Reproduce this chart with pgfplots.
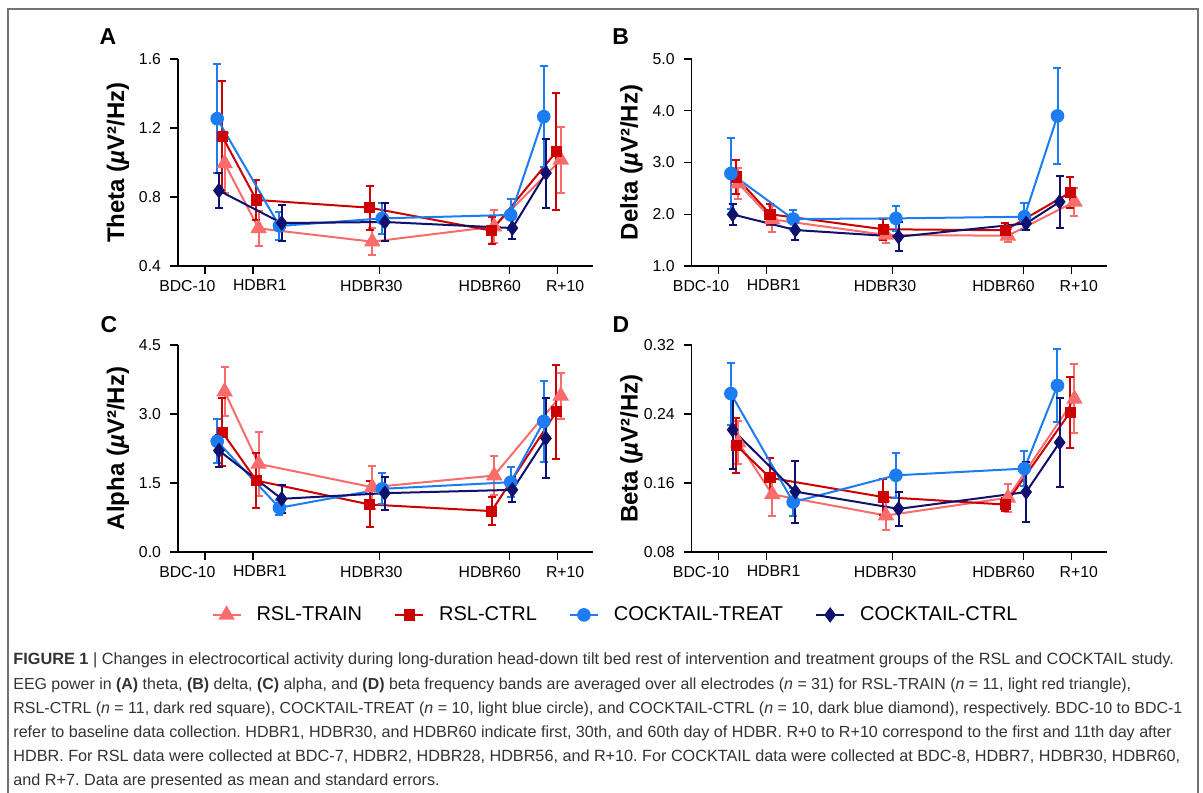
\documentclass[border=0pt]{standalone}
\usepackage{pgfplots}
\pgfplotsset{compat=1.18}
\usepackage{fontspec}
\setmainfont{Liberation Sans}
\frenchspacing

\definecolor{ctrain}{RGB}{248,108,108}
\definecolor{crctrl}{RGB}{204,0,0}
\definecolor{ctreat}{RGB}{28,124,242}
\definecolor{ccctrl}{RGB}{16,16,110}

\pgfplotsset{
  panel/.style={
    scale only axis, width=207.5pt, height=103.5pt,
    axis x line*=bottom, axis y line*=left,
    xmin=-16.2, xmax=79.1,
    xtick={-10,1,30,60,71}, xticklabels={},
    extra x ticks={-14.05,2.6,28.2,55.4,72.7},
    extra x tick labels={BDC-10,HDBR1,HDBR30,HDBR60,R+10},
    extra x tick style={major tick length=0pt},
    tick align=outside, major tick length=4pt,
    axis line style={line width=0.6pt},
    tick style={line width=0.6pt, black},
    ticklabel style={font=\fontsize{7.9}{9}\selectfont},
    yticklabel style={xshift=-1pt},
    xticklabel style={yshift=-3.5pt},
    /pgf/number format/assume math mode=true,
    /pgf/number format/fixed, /pgf/number format/fixed zerofill,
    /pgf/number format/precision=1,
    scaled y ticks=false,
    ylabel style={font=\bfseries\fontsize{12}{14}\selectfont,
      at={(axis description cs:-0.145,0.5)}, anchor=center},
    clip=false,
  },
  errs/.style={error bars/.cd, y dir=both, y explicit,
    error bar style={line width=1pt},
    error mark options={rotate=90, mark size=2pt, line width=1pt, #1}},
  train/.style={color=ctrain, line width=1pt, mark=triangle*, mark size=3.8pt,
    mark options={solid, fill=ctrain}, errs=ctrain},
  rctrl/.style={color=crctrl, line width=1pt, mark=square*, mark size=2.3pt,
    mark options={solid, fill=crctrl}, errs=crctrl},
  treat/.style={color=ctreat, line width=1pt, mark=*, mark size=2.9pt,
    mark options={solid, fill=ctreat}, errs=ctreat},
  cctrl/.style={color=ccctrl, line width=1pt, mark=diamond*, mark size=3.1pt,
    mark options={solid, fill=ccctrl}, errs=ccctrl},
}

\begin{document}
\begin{tikzpicture}
\useasboundingbox (0pt,0pt) rectangle (601.5pt,396pt);
\draw[black!55, line width=0.7pt] (4pt,-1pt) -- (4pt,391.5pt) -- (599pt,391.5pt) -- (599pt,-1pt);

% panel letters
\node[font=\bfseries\fontsize{11.5}{13}\selectfont] at (54pt,377.5pt) {A};
\node[font=\bfseries\fontsize{11.5}{13}\selectfont] at (310.3pt,377.5pt) {B};
\node[font=\bfseries\fontsize{11.5}{13}\selectfont] at (54.5pt,233.5pt) {C};
\node[font=\bfseries\fontsize{11.5}{13}\selectfont] at (310.5pt,233.5pt) {D};

% A theta
\begin{axis}[panel, at={(89pt,263pt)}, anchor=south west,
  ymin=0.4, ymax=1.6, ytick={0.4,0.8,1.2,1.6},
  ylabel={Theta (\textit{µ}V²/Hz)}]
\addplot[train] coordinates {(-5.5,0.995)+-(0,0.174) (2.3,0.618)+-(0,0.10) (28.4,0.541)+-(0,0.08) (56.4,0.628)+-(0,0.095) (71.7,1.015)+-(0,0.19)};
\addplot[rctrl] coordinates {(-6.0,1.150)+-(0,0.325) (1.8,0.783)+-(0,0.114) (27.8,0.738)+-(0,0.127) (55.8,0.605)+-(0,0.08) (70.7,1.063)+-(0,0.34)};
\addplot[treat] coordinates {(-7.2,1.254)+-(0,0.317) (7.1,0.632)+-(0,0.083) (30.7,0.676)+-(0,0.09) (60.2,0.696)+-(0,0.09) (67.8,1.266)+-(0,0.295)};
\addplot[cctrl] coordinates {(-6.8,0.837)+-(0,0.103) (7.6,0.649)+-(0,0.107) (31.3,0.655)+-(0,0.11) (60.6,0.620)+-(0,0.065) (68.3,0.939)+-(0,0.2)};
\end{axis}

% B delta
\begin{axis}[panel, at={(345.85pt,263pt)}, anchor=south west,
  ymin=1, ymax=5, ytick={1,2,3,4,5},
  ylabel={Delta (\textit{µ}V²/Hz)}]
\addplot[train] coordinates {(-5.5,2.595)+-(0,0.3) (2.3,1.90)+-(0,0.25) (28.4,1.60)+-(0,0.16) (56.4,1.585)+-(0,0.13) (71.7,2.24)+-(0,0.27)};
\addplot[rctrl] coordinates {(-6.0,2.72)+-(0,0.32) (1.8,2.00)+-(0,0.2) (27.8,1.71)+-(0,0.2) (55.8,1.69)+-(0,0.14) (70.7,2.42)+-(0,0.29)};
\addplot[treat] coordinates {(-7.2,2.788)+-(0,0.69) (7.1,1.907)+-(0,0.17) (30.7,1.92)+-(0,0.245) (60.2,1.952)+-(0,0.26) (67.8,3.90)+-(0,0.92)};
\addplot[cctrl] coordinates {(-6.8,1.997)+-(0,0.2) (7.6,1.695)+-(0,0.2) (31.3,1.566)+-(0,0.28) (60.6,1.823)+-(0,0.13) (68.3,2.24)+-(0,0.5)};
\end{axis}

% C alpha
\begin{axis}[panel, at={(89pt,120pt)}, anchor=south west,
  ymin=0, ymax=4.5, ytick={0,1.5,3,4.5},
  ylabel={Alpha (\textit{µ}V²/Hz)}]
\addplot[train] coordinates {(-5.5,3.49)+-(0,0.53) (2.3,1.915)+-(0,0.69) (28.4,1.409)+-(0,0.47) (56.4,1.662)+-(0,0.43) (71.7,3.396)+-(0,0.5)};
\addplot[rctrl] coordinates {(-6.0,2.601)+-(0,0.74) (1.8,1.553)+-(0,0.6) (27.8,1.033)+-(0,0.5) (55.8,0.889)+-(0,0.3) (70.7,3.049)+-(0,1.02)};
\addplot[treat] coordinates {(-7.2,2.406)+-(0,0.48) (7.1,0.961)+-(0,0.16) (30.7,1.373)+-(0,0.34) (60.2,1.517)+-(0,0.32) (67.8,2.84)+-(0,0.88)};
\addplot[cctrl] coordinates {(-6.8,2.204)+-(0,0.35) (7.6,1.156)+-(0,0.3) (31.3,1.279)+-(0,0.36) (60.6,1.351)+-(0,0.27) (68.3,2.471)+-(0,0.87)};
\end{axis}

% D beta
\begin{axis}[panel, at={(345.85pt,120pt)}, anchor=south west,
  ymin=0.08, ymax=0.32, ytick={0.08,0.16,0.24,0.32},
  /pgf/number format/precision=2,
  ylabel={Beta (\textit{µ}V²/Hz)},
  legend columns=4,
  legend style={at={(-0.181,-0.304)}, anchor=center, draw=none, fill=none,
    font=\fontsize{10}{12}\selectfont,
    /tikz/every odd column/.append style={column sep=5.5pt},
    /tikz/every even column/.append style={column sep=14pt}},
  legend image code/.code={\draw[mark repeat=2,mark phase=2] plot coordinates {(0pt,0pt) (7pt,0pt) (14pt,0pt)};}]
\addplot[train] coordinates {(-5.5,0.207)+-(0,0.025) (2.3,0.1468)+-(0,0.025) (28.4,0.1223)+-(0,0.017) (56.4,0.1429)+-(0,0.016) (71.7,0.2575)+-(0,0.04)};
\addlegendentry{RSL-TRAIN}
\addplot[rctrl] coordinates {(-6.0,0.2039)+-(0,0.032) (1.8,0.166)+-(0,0.023) (27.8,0.1437)+-(0,0.021) (55.8,0.135)+-(0,0.008) (70.7,0.242)+-(0,0.041)};
\addlegendentry{RSL-CTRL}
\addplot[treat] coordinates {(-7.2,0.2637)+-(0,0.036) (7.1,0.1379)+-(0,0.016) (30.7,0.1689)+-(0,0.026) (60.2,0.1767)+-(0,0.02) (67.8,0.273)+-(0,0.042)};
\addlegendentry{COCKTAIL-TREAT}
\addplot[cctrl] coordinates {(-6.8,0.2217)+-(0,0.045) (7.6,0.150)+-(0,0.036) (31.3,0.130)+-(0,0.02) (60.6,0.1495)+-(0,0.035) (68.3,0.207)+-(0,0.052)};
\addlegendentry{COCKTAIL-CTRL}
\end{axis}

% caption
\begin{scope}[every node/.style={anchor=base west, inner sep=0pt, text=black!80}]
\node[font=\fontsize{8.15}{9}\selectfont] at (6.5pt,63.5pt) {\textbf{FIGURE 1} | Changes in electrocortical activity during long-duration head-down tilt bed rest of intervention and treatment groups of the RSL and COCKTAIL study.};
\node[font=\fontsize{7.97}{9}\selectfont] at (6.5pt,51.5pt) {EEG power in \textbf{(A)} theta, \textbf{(B)} delta, \textbf{(C)} alpha, and \textbf{(D)} beta frequency bands are averaged over all electrodes (\textit{n} = 31) for RSL-TRAIN (\textit{n} = 11, light red triangle),};
\node[font=\fontsize{7.98}{9}\selectfont] at (6.5pt,39.5pt) {RSL-CTRL (\textit{n} = 11, dark red square), COCKTAIL-TREAT (\textit{n} = 10, light blue circle), and COCKTAIL-CTRL (\textit{n} = 10, dark blue diamond), respectively. BDC-10 to BDC-1};
\node[font=\fontsize{8.06}{9}\selectfont] at (6.5pt,27.5pt) {refer to baseline data collection. HDBR1, HDBR30, and HDBR60 indicate first, 30th, and 60th day of HDBR. R+0 to R+10 correspond to the first and 11th day after};
\node[font=\fontsize{8.1}{9}\selectfont] at (6.5pt,15.5pt) {HDBR. For RSL data were collected at BDC-7, HDBR2, HDBR28, HDBR56, and R+10. For COCKTAIL data were collected at BDC-8, HDBR7, HDBR30, HDBR60,};
\node[font=\fontsize{8.1}{9}\selectfont] at (6.5pt,3.5pt) {and R+7. Data are presented as mean and standard errors.};
\end{scope}
\end{tikzpicture}
\end{document}
